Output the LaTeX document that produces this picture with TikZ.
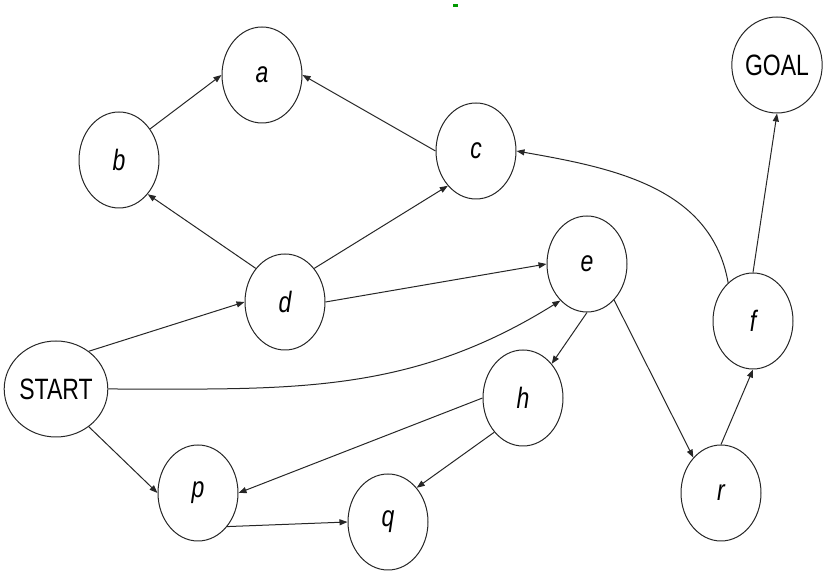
\documentclass[tikz,border=0pt]{standalone}
\usepackage{graphicx}
\usepackage{fontspec}
\setmainfont{Liberation Sans}
\usetikzlibrary{shapes.geometric,arrows.meta}
\newcommand{\nodetxt}[1]{\scalebox{1}[1.28]{#1}}
\begin{document}
\begin{tikzpicture}[x=1pt,y=1pt,
  st/.style={draw=black!85, line width=1pt, ellipse, minimum width=80pt, minimum height=96pt, inner sep=0pt, font=\fontsize{23}{23}\selectfont},
  ed/.style={draw=black!85, line width=1pt, -{Triangle[length=8pt,width=6pt]}}]
\useasboundingbox (0,0) rectangle (828,575);
\fill[green!60!black] (453,568) rectangle (458,571);
\node[st] (a) at (262,500) {\nodetxt{\itshape a}};
\node[st] (b) at (119,415) {\nodetxt{\itshape b}};
\node[st] (c) at (476,424) {\nodetxt{\itshape c}};
\node[st] (GOAL) at (777,510) {\nodetxt{GOAL}};
\node[st] (d) at (285,273) {\nodetxt{\itshape d}};
\node[st] (e) at (587,311) {\nodetxt{\itshape e}};
\node[st] (f) at (753,254) {\nodetxt{\itshape f}};
\node[st] (START) at (56,186) {\nodetxt{START}};
\node[st] (h) at (523,177) {\nodetxt{\itshape h}};
\node[st] (p) at (198,82) {\nodetxt{\itshape p}};
\node[st] (q) at (388,53) {\nodetxt{\itshape q}};
\node[st] (r) at (721,82) {\nodetxt{\itshape r}};
\draw[ed] (b.45) -- (a.west);
\draw[ed] (c.west) -- (a.east);
\draw[ed] (d.131) -- (b.-50);
\draw[ed] (d.49) -- (c.231);
\draw[ed] (d.east) -- (e.west);
\draw[ed] (START.49) -- (d.west);
\draw[ed] (START.east) to[out=0,in=212] (e.234);
\draw[ed] (START.-49) -- (p.west);
\draw[ed] (h.west) -- (p.east);
\draw[ed] (h.230) -- (q.50);
\draw[ed] (p.-49) -- (q.west);
\draw[ed] (e.south) -- (h.50);
\draw[ed] (e.-53) -- (r.128);
\draw[ed] (r.north) -- (f.south);
\draw[ed] (f.north) -- (GOAL.south);
\draw[ed] (f.123) to[out=100,in=-10] (c.east);
\end{tikzpicture}
\end{document}
